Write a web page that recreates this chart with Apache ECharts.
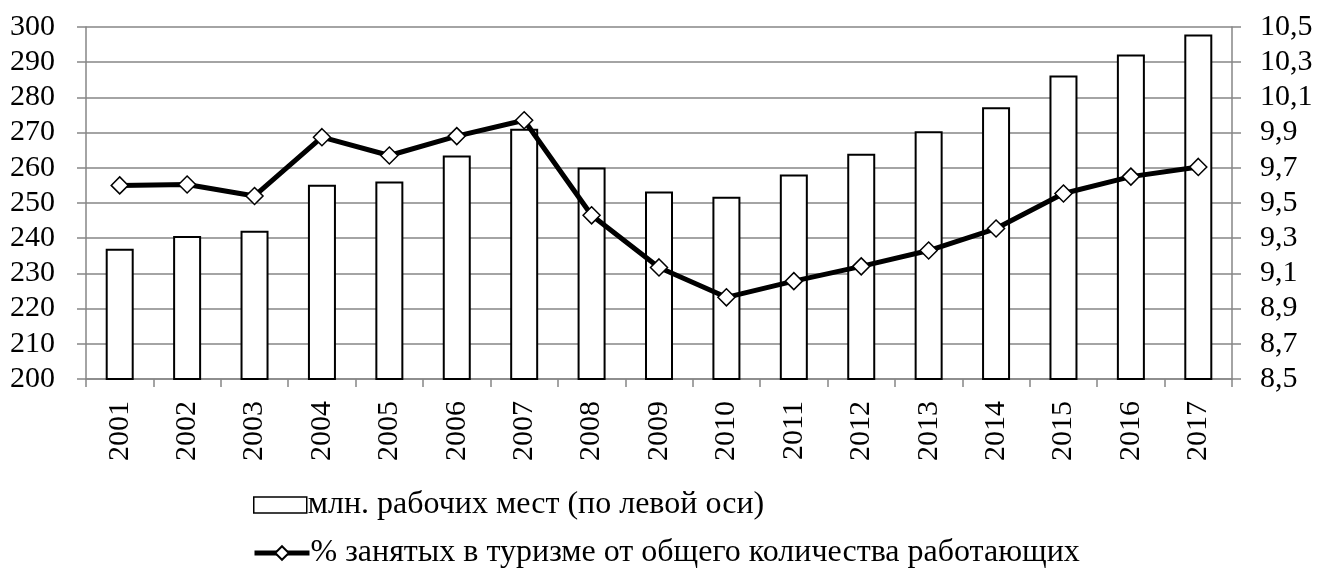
<!DOCTYPE html>
<html>
<head>
<meta charset="utf-8">
<script src="https://cdn.jsdelivr.net/npm/echarts@6/dist/echarts.min.js"></script>
<style>
html,body{margin:0;padding:0;background:#fff;}
#chart{width:1319px;height:572px;}
</style>
</head>
<body>
<div id="chart"></div>
<script>
const years = ['2001','2002','2003','2004','2005','2006','2007','2008','2009','2010','2011','2012','2013','2014','2015','2016','2017'];
const jobs = [237, 240.6, 242.1, 255.2, 256.1, 263.5, 271.1, 260.1, 253.3, 251.8, 258.1, 264.0, 270.4, 277.2, 286.2, 292.2, 297.9];
const share = [9.60, 9.605, 9.54, 9.874, 9.77, 9.88, 9.97, 9.43, 9.134, 8.964, 9.056, 9.14, 9.23, 9.355, 9.554, 9.65, 9.705];
const jobsName = 'млн. рабочих мест (по левой оси)';
const shareName = '% занятых в туризме от общего количества работающих';

const FONT = 'Liberation Serif';
const gridColor = '#868686';

const chart = echarts.init(document.getElementById('chart'));
chart.setOption({
  backgroundColor: '#fff',
  animation: false,
  textStyle: { fontFamily: FONT, color: '#000' },
  grid: { left: 86, right: 87, top: 27, bottom: 193 },
  legend: [
    {
      data: [{ name: jobsName, icon: 'rect' }], left: 248, top: 484, orient: 'horizontal',
      itemWidth: 53, itemHeight: 16, itemGap: 4,
      itemStyle: { color: '#fff', borderColor: '#000', borderWidth: 1.5 },
      textStyle: { fontFamily: FONT, fontSize: 32, color: '#000', padding: [0,0,0,-4] }
    },
    {
      data: [shareName], left: 247, top: 532, orient: 'horizontal',
      itemWidth: 55, itemHeight: 17,
      lineStyle: { color: '#000', width: 5 },
      textStyle: { fontFamily: FONT, fontSize: 32, color: '#000', padding: [0,0,0,-4] }
    }
  ],
  xAxis: {
    type: 'category', data: years, boundaryGap: true,
    axisLine: { lineStyle: { color: gridColor, width: 1.5 } },
    axisTick: { show: true, length: 8, lineStyle: { color: gridColor, width: 1.5 } },
    axisLabel: { rotate: 90, fontFamily: FONT, fontSize: 30, color: '#000', margin: 22 }
  },
  yAxis: [
    {
      type: 'value', min: 200, max: 300, interval: 10,
      axisLine: { show: true, lineStyle: { color: gridColor, width: 1.5 } },
      axisTick: { show: true, length: 9, lineStyle: { color: gridColor, width: 1.5 } },
      splitLine: { lineStyle: { color: gridColor, width: 1.5 } },
      axisLabel: { fontFamily: FONT, fontSize: 30, color: '#000', margin: 31 }
    },
    {
      type: 'value', min: 8.5, max: 10.5, interval: 0.2, position: 'right',
      axisLine: { show: true, lineStyle: { color: gridColor, width: 1.5 } },
      axisTick: { show: true, length: 9, lineStyle: { color: gridColor, width: 1.5 } },
      splitLine: { show: false },
      axisLabel: {
        fontFamily: FONT, fontSize: 30, color: '#000', margin: 28,
        formatter: v => v.toFixed(1).replace('.', ',')
      }
    }
  ],
  series: [
    {
      name: jobsName, type: 'bar', yAxisIndex: 0, data: jobs, barWidth: 28,
      itemStyle: { color: '#fff', borderColor: '#000', borderWidth: 2 }
    },
    {
      name: shareName, type: 'line', yAxisIndex: 1, data: share,
      symbol: 'diamond', symbolSize: 17, showAllSymbol: true,
      lineStyle: { color: '#000', width: 5 },
      itemStyle: { color: '#fff', borderColor: '#000', borderWidth: 1.5 },
      z: 5
    }
  ]
});
</script>
</body>
</html>
